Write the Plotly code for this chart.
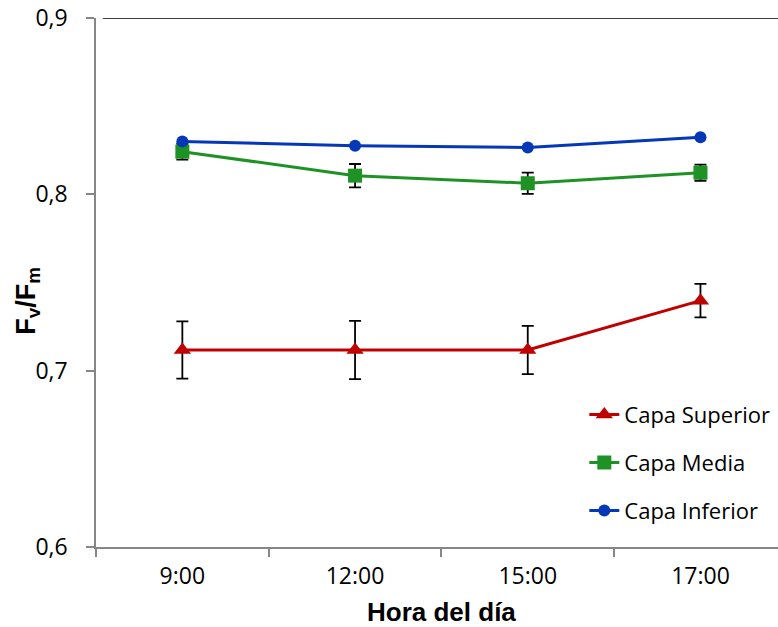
import plotly.graph_objects as go

categories = ["9:00", "12:00", "15:00", "17:00"]

superior = [0.7117, 0.7117, 0.7117, 0.7397]
superior_err = [0.0162, 0.0165, 0.0137, 0.0095]

media = [0.8242, 0.8106, 0.8063, 0.8123]
media_err = [0.0045, 0.0066, 0.0060, 0.0046]

inferior = [0.8300, 0.8275, 0.8266, 0.8324]

y_ticks = [0.6, 0.7, 0.8, 0.9]

FONT = "Open Sans"
AXIS_GRAY = "#868686"

fig = go.Figure()

fig.add_trace(go.Scatter(
    x=categories, y=superior, name="Capa Superior", mode="lines+markers",
    line=dict(color="#C00000", width=3),
    marker=dict(symbol="triangle-up", size=15, color="#C00000"),
    error_y=dict(type="data", array=superior_err, visible=True,
                 color="black", thickness=1.8, width=6),
    legendgroup="a",
))
fig.add_trace(go.Scatter(
    x=categories, y=media, name="Capa Media", mode="lines+markers",
    line=dict(color="#1F9226", width=3),
    marker=dict(symbol="square", size=14, color="#1F9226"),
    error_y=dict(type="data", array=media_err, visible=True,
                 color="black", thickness=1.8, width=6),
    legendgroup="b",
))
fig.add_trace(go.Scatter(
    x=categories, y=inferior, name="Capa Inferior", mode="lines+markers",
    line=dict(color="#0538B6", width=3),
    marker=dict(symbol="circle", size=12, color="#0538B6"),
    legendgroup="c",
))

fig.update_layout(
    width=778, height=627,
    margin=dict(l=96, r=0, t=18, b=80),
    paper_bgcolor="white", plot_bgcolor="white",
    separators=",.",
    font=dict(family=FONT, size=22, color="black"),
    showlegend=True,
    legend=dict(
        x=0.716, y=0.29, xanchor="left", yanchor="top",
        font=dict(family=FONT, size=22, color="black"),
        bgcolor="rgba(0,0,0,0)", tracegroupgap=16.5, traceorder="grouped",
    ),
    xaxis=dict(
        type="category", range=[-0.5, 3.449],
        showline=True, linecolor=AXIS_GRAY, linewidth=1.5,
        ticks="outside", tickson="boundaries", ticklen=8, tickcolor=AXIS_GRAY, tickwidth=1.5,
        showgrid=False, zeroline=False,
        tickfont=dict(family=FONT, size=23, color="black"),
        ticklabelstandoff=8,
    ),
    yaxis=dict(
        range=[0.6, 0.9], tickvals=y_ticks, tickformat=".1f",
        showline=True, linecolor=AXIS_GRAY, linewidth=1.5,
        ticks="outside", ticklen=8, tickcolor=AXIS_GRAY, tickwidth=1.5,
        showgrid=False, zeroline=False,
        tickfont=dict(family=FONT, size=23, color="black"),
        ticklabelstandoff=14,
    ),
)

# top border line of the plot area
fig.add_shape(type="line", xref="paper", yref="y", x0=0.01, x1=1, y0=0.9, y1=0.9,
              line=dict(color="black", width=1.5), layer="above")

# axis titles
fig.add_annotation(text="<b>Hora del día</b>", xref="x", yref="paper",
                   x=1.5, y=-0.123, yanchor="middle", showarrow=False,
                   font=dict(family="Liberation Sans", size=26, color="black"))
fig.add_annotation(text="<b>F<sub>v</sub>/F<sub>m</sub></b>", xref="paper", yref="paper",
                   x=-0.1, y=0.465, textangle=-90, showarrow=False,
                   xanchor="center", yanchor="middle",
                   font=dict(family="Liberation Sans", size=27, color="black"))

fig.write_html("out.html")
